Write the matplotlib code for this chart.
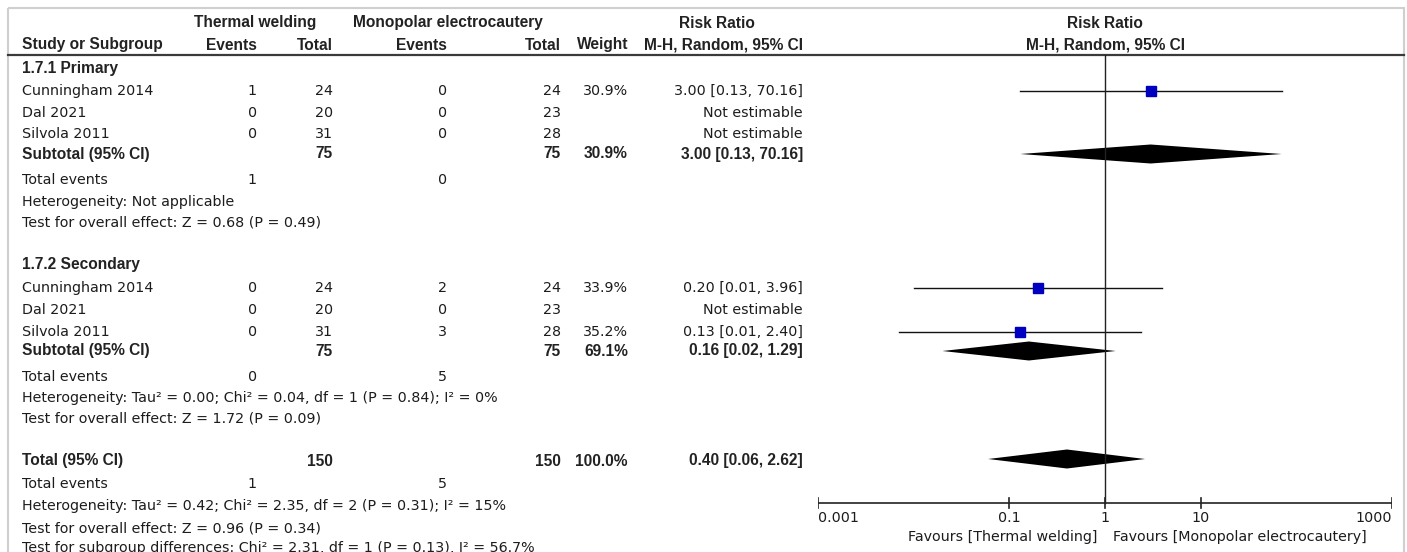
import matplotlib
matplotlib.use("Agg")
import matplotlib.pyplot as plt
from matplotlib import font_manager
from matplotlib.patches import Rectangle

# ---- data ----
groups = ["1.7.1 Primary", "1.7.2 Secondary"]
studies = ["Cunningham 2014", "Dal 2021", "Silvola 2011"]

tw_events = [[1, 0, 0], [0, 0, 0]]
tw_total = [[24, 20, 31], [24, 20, 31]]
mp_events = [[0, 0, 0], [2, 0, 3]]
mp_total = [[24, 23, 28], [24, 23, 28]]
weights = [["30.9%", "", ""], ["33.9%", "", "35.2%"]]
rr_text = [["3.00 [0.13, 70.16]", "Not estimable", "Not estimable"],
           ["0.20 [0.01, 3.96]", "Not estimable", "0.13 [0.01, 2.40]"]]
rr = [[3.00, None, None], [0.20, None, 0.13]]
rr_lo = [[0.13, None, None], [0.0101, None, 0.0070]]
rr_hi = [[70.16, None, None], [3.96, None, 2.40]]
w_num = [[30.9, 0, 0], [33.9, 0, 35.2]]

sub_tw_total = [75, 75]
sub_mp_total = [75, 75]
sub_weight = ["30.9%", "69.1%"]
sub_text = ["3.00 [0.13, 70.16]", "0.16 [0.02, 1.29]"]
sub_rr = [3.00, 0.16]
sub_lo = [0.13, 0.02]
sub_hi = [70.16, 1.29]
sub_ev_tw = [1, 0]
sub_ev_mp = [0, 5]
sub_het = ["Heterogeneity: Not applicable",
           "Heterogeneity: Tau\u00b2 = 0.00; Chi\u00b2 = 0.04, df = 1 (P = 0.84); I\u00b2 = 0%"]
sub_test = ["Test for overall effect: Z = 0.68 (P = 0.49)",
            "Test for overall effect: Z = 1.72 (P = 0.09)"]

total_n = [150, 150]
total_weight = "100.0%"
total_text = "0.40 [0.06, 2.62]"
total_rr, total_lo, total_hi = 0.40, 0.06, 2.62
total_ev = [1, 5]
total_lines = ["Heterogeneity: Tau\u00b2 = 0.42; Chi\u00b2 = 2.35, df = 2 (P = 0.31); I\u00b2 = 15%",
               "Test for overall effect: Z = 0.96 (P = 0.34)",
               "Test for subgroup differences: Chi\u00b2 = 2.31, df = 1 (P = 0.13), I\u00b2 = 56.7%"]

ticks = [0.001, 0.1, 1, 10, 1000]
tick_labels = ["0.001", "0.1", "1", "10", "1000"]
fav_left = "Favours [Thermal welding]"
fav_right = "Favours [Monopolar electrocautery]"

# ---- layout (pixel rows) ----
W, H = 1407, 552
group_rows = [
    dict(head=68, rows=[91, 113, 134], sub=154, ev=180, het=202, test=222),
    dict(head=264, rows=[288, 310, 332], sub=351, ev=377, het=398, test=419),
]
total_row, total_ev_row, total_line_rows = 461, 484, [506, 528, 548]

# pin the bold face to the regular-width Liberation Sans Bold file
bold_file = [f for f in font_manager.findSystemFonts() if f.endswith("LiberationSans-Bold.ttf")]
if bold_file:
    bold_fp = font_manager.FontProperties(fname=bold_file[0], size=11.2)
else:
    bold_fp = font_manager.FontProperties(family="DejaVu Sans", weight="bold", size=10)

TXT = "#1c1c1c"
REG = dict(family="DejaVu Sans", fontsize=10.3, color=TXT)
BLD = dict(fontproperties=bold_fp, color="#222222")

# column anchors
X_STUDY, X_TWE, X_TWT, X_MPE, X_MPT, X_W, X_RR = 22, 257, 333, 447, 561, 628, 803

fig = plt.figure(figsize=(W / 100, H / 100), dpi=100)
ax = fig.add_axes([0, 0, 1, 1])
ax.set_xlim(0, W)
ax.set_ylim(H, 0)
ax.axis("off")

# frame and header rule
ax.add_patch(Rectangle((8, 8), 1396, 600, fill=False, ec="#cfcfcf", lw=1.5))
ax.plot([8, 1404], [55, 55], color="#3a3a3a", lw=1.6)

def t(x, y, s, style, ha="left"):
    ax.text(x, y, s, ha=ha, va="center", **style)

# header
t(255, 23, "Thermal welding", BLD, "center")
t(448, 23, "Monopolar electrocautery", BLD, "center")
t(717, 23, "Risk Ratio", BLD, "center")
t(1105, 23, "Risk Ratio", BLD, "center")
t(X_STUDY, 45, "Study or Subgroup", BLD)
t(X_TWE, 45, "Events", BLD, "right")
t(X_TWT, 45, "Total", BLD, "right")
t(X_MPE, 45, "Events", BLD, "right")
t(X_MPT, 45, "Total", BLD, "right")
t(X_W, 45, "Weight", BLD, "right")
t(X_RR, 45, "M-H, Random, 95% CI", BLD, "right")
t(1105, 45, "M-H, Random, 95% CI", BLD, "center")

# forest axes, log scale
x0, x1 = 818, 1392
fx = fig.add_axes([x0 / W, 0, (x1 - x0) / W, 1])
fx.set_xscale("log")
fx.set_xlim(ticks[0], ticks[-1])
fx.set_ylim(H, 0)
fx.axis("off")
fx.patch.set_alpha(0)

def diamond(y, est, lo, hi, h=9.5):
    fx.fill([lo, est, hi, est], [y, y - h, y, y + h], color="black", lw=0)

for g, lay in enumerate(group_rows):
    t(X_STUDY, lay["head"], groups[g], BLD)
    for i, y in enumerate(lay["rows"]):
        t(X_STUDY, y, studies[i], REG)
        t(X_TWE, y, str(tw_events[g][i]), REG, "right")
        t(X_TWT, y, str(tw_total[g][i]), REG, "right")
        t(X_MPE, y, str(mp_events[g][i]), REG, "right")
        t(X_MPT, y, str(mp_total[g][i]), REG, "right")
        t(X_W, y, weights[g][i], REG, "right")
        t(X_RR, y, rr_text[g][i], REG, "right")
        if rr[g][i] is not None:
            fx.plot([rr_lo[g][i], rr_hi[g][i]], [y, y], color="#111111", lw=1)
            fx.plot(rr[g][i], y, marker="s", color="#0000c0", mec="#0000c0",
                    ms=7.2 * (w_num[g][i] / 30.9) ** 0.5, zorder=3)
    ys = lay["sub"]
    t(X_STUDY, ys, "Subtotal (95% CI)", BLD)
    t(X_TWT, ys, str(sub_tw_total[g]), BLD, "right")
    t(X_MPT, ys, str(sub_mp_total[g]), BLD, "right")
    t(X_W, ys, sub_weight[g], BLD, "right")
    t(X_RR, ys, sub_text[g], BLD, "right")
    diamond(ys, sub_rr[g], sub_lo[g], sub_hi[g])
    t(X_STUDY, lay["ev"], "Total events", REG)
    t(X_TWE, lay["ev"], str(sub_ev_tw[g]), REG, "right")
    t(X_MPE, lay["ev"], str(sub_ev_mp[g]), REG, "right")
    t(X_STUDY, lay["het"], sub_het[g], REG)
    t(X_STUDY, lay["test"], sub_test[g], REG)

# overall
t(X_STUDY, total_row, "Total (95% CI)", BLD)
t(X_TWT, total_row, str(total_n[0]), BLD, "right")
t(X_MPT, total_row, str(total_n[1]), BLD, "right")
t(X_W, total_row, total_weight, BLD, "right")
t(X_RR, total_row, total_text, BLD, "right")
diamond(total_row - 2, total_rr, total_lo, total_hi)
t(X_STUDY, total_ev_row, "Total events", REG)
t(X_TWE, total_ev_row, str(total_ev[0]), REG, "right")
t(X_MPE, total_ev_row, str(total_ev[1]), REG, "right")
for y, s in zip(total_line_rows, total_lines):
    t(X_STUDY, y, s, REG)

# null line and x axis
axis_y = 503
fx.plot([1, 1], [55, axis_y], color="#222222", lw=1)
fx.plot([ticks[0], ticks[-1]], [axis_y, axis_y], color="#222222", lw=1.2)
for k, (tk, lab) in enumerate(zip(ticks, tick_labels)):
    fx.plot([tk, tk], [axis_y - 5, axis_y + 5], color="#222222", lw=1.2)
    ha = "left" if k == 0 else ("right" if k == len(ticks) - 1 else "center")
    fx.text(tk, 518, lab, ha=ha, va="center", **REG)
fx.text(0.83, 537, fav_left, ha="right", va="center", **REG)
fx.text(1.2, 537, fav_right, ha="left", va="center", **REG)

fig.savefig("out.png", dpi=100)
